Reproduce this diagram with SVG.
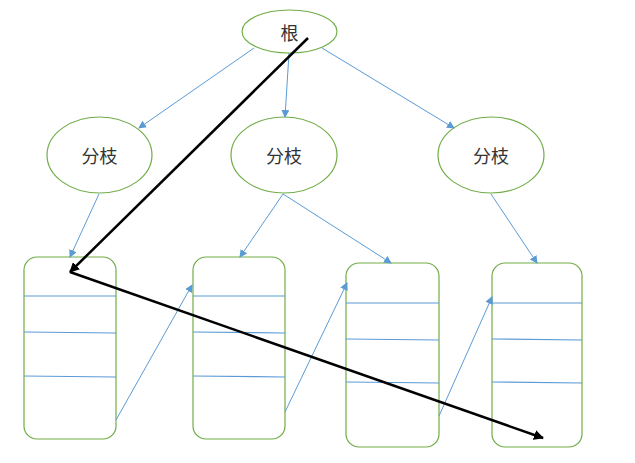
<svg xmlns="http://www.w3.org/2000/svg" width="635" height="463" viewBox="0 0 635 463">
<defs>
<marker id="ab" markerWidth="8" markerHeight="8" refX="7" refY="4" orient="auto" markerUnits="userSpaceOnUse"><path d="M0,0 L8,4 L0,8 Z" fill="#5B9BD5"/></marker>
<marker id="ak" markerWidth="10" markerHeight="10" refX="9" refY="5" orient="auto" markerUnits="userSpaceOnUse"><path d="M0,0 L10,5 L0,10 Z" fill="#000"/></marker>
</defs>
<style>
.n{fill:#fff;stroke:#70AD47;stroke-width:1.2}
.r{fill:#fff;stroke:#70AD47;stroke-width:1.2}
.d{stroke:#5B9BD5;stroke-width:1.2;fill:none}
.c{stroke:#5B9BD5;stroke-width:1;fill:none;marker-end:url(#ab)}
.k{stroke:#000;stroke-width:2.5;fill:none;marker-end:url(#ak)}
text{font-family:"Noto Sans CJK SC","Noto Sans CJK JP",sans-serif;font-size:18px;fill:#333;text-anchor:middle;dominant-baseline:central}
</style>
<rect width="635" height="463" fill="#fff"/>
<g id="root"><ellipse class="n" cx="289.5" cy="31.5" rx="47.5" ry="21.5"/><text x="289.5" y="31.5">根</text></g>
<g id="b1"><ellipse class="n" cx="99.5" cy="155" rx="52.5" ry="38"/><text x="99.5" y="155">分枝</text></g>
<g id="b2"><ellipse class="n" cx="284" cy="155" rx="53" ry="38"/><text x="284" y="155">分枝</text></g>
<g id="b3"><ellipse class="n" cx="491" cy="155" rx="53" ry="38"/><text x="491" y="155">分枝</text></g>
<g id="box1"><rect class="r" x="24" y="257" width="92" height="182" rx="13"/><path class="d" d="M24,296H116M24,332L116,333M24,376L116,377"/></g>
<g id="box2"><rect class="r" x="193" y="257" width="92" height="182" rx="13"/><path class="d" d="M193,296H285M193,332L285,333M193,376L285,377"/></g>
<g id="box3"><rect class="r" x="346" y="263" width="93" height="184" rx="13"/><path class="d" d="M346,303H439M346,339L439,340M346,382L439,383"/></g>
<g id="box4"><rect class="r" x="492" y="263" width="90" height="184" rx="13"/><path class="d" d="M492,303H582M492,339L582,340M492,382L582,383"/></g>
<g id="connectors">
<line class="c" x1="254" y1="48" x2="139" y2="128"/>
<line class="c" x1="289" y1="53" x2="285" y2="117"/>
<line class="c" x1="322" y1="48" x2="454" y2="128"/>
<line class="c" x1="99" y1="194" x2="70" y2="257"/>
<line class="c" x1="283" y1="194" x2="240" y2="257"/>
<line class="c" x1="283" y1="194" x2="391" y2="263"/>
<line class="c" x1="491" y1="194" x2="537" y2="263"/>
<line class="c" x1="116" y1="420" x2="192" y2="285"/>
<line class="c" x1="285" y1="412" x2="347" y2="283"/>
<line class="c" x1="439" y1="416" x2="492" y2="297"/>
<line class="k" x1="308" y1="38" x2="70" y2="272"/>
<line class="k" x1="70" y1="272" x2="543" y2="438"/>
</g>
</svg>
